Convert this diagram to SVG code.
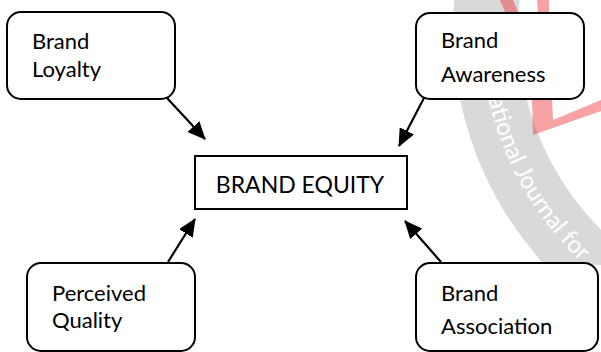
<svg xmlns="http://www.w3.org/2000/svg" width="601" height="352" viewBox="0 0 601 352">
  <style>
    .box { fill: #ffffff; stroke: #000000; stroke-width: 2; }
    .label { font-family: Lato, "Liberation Sans", sans-serif; font-size: 22px; fill: #000000; }
    .title { font-family: Lato, "Liberation Sans", sans-serif; font-size: 23px; fill: #000000; }
    .link { stroke: #000000; stroke-width: 2.2; fill: none; marker-end: url(#head); }
    .band { fill: #d9d9d9; }
    .mark { fill: #ee3333; fill-opacity: 0.45; }
    .bandtext { font-family: Lato, "Liberation Sans", sans-serif; font-size: 24px; fill: #ffffff; }
  </style>
  <defs>
    <marker id="head" viewBox="0 0 18 16" refX="17" refY="8" markerWidth="18" markerHeight="16" markerUnits="userSpaceOnUse" orient="auto">
      <path d="M0,0 L18,8 L0,16 Z" fill="#000000"/>
    </marker>
    <path id="arc" d="M488.6,98.8 A320,320 0 0 0 665.8,319.5"/>
  </defs>

  <rect width="601" height="352" fill="#ffffff"/>

  <!-- background seal -->
  <g id="seal">
    <path class="band" d="M455.2,-10 A348,348 0 0 0 544.8,265 L644.1,265 A283,283 0 0 1 520.8,-10 Z"/>
    <polygon class="mark" points="500,0 513,0 519,14 506,14"/>
    <polygon class="mark" points="537,0 549,0 549,14 538,14"/>
    <polygon class="mark" points="532,99 552,99 553,120 601,100 601,111 533,135"/>
    <text class="bandtext"><textPath href="#arc">ational Journal for</textPath></text>
  </g>

  <!-- connectors -->
  <g id="connectors">
    <line class="link" x1="167" y1="98" x2="205" y2="139"/>
    <line class="link" x1="424" y1="98" x2="399" y2="146"/>
    <line class="link" x1="168" y1="262" x2="195" y2="219"/>
    <line class="link" x1="441" y1="262" x2="405" y2="221"/>
  </g>

  <g id="brand-loyalty">
    <rect class="box" x="7" y="12" width="168" height="87" rx="14"/>
    <text class="label" x="32" y="49">Brand</text>
    <text class="label" x="32" y="77">Loyalty</text>
  </g>

  <g id="brand-awareness">
    <rect class="box" x="416" y="13" width="168" height="86" rx="14"/>
    <text class="label" x="441" y="48">Brand</text>
    <text class="label" x="441" y="82">Awareness</text>
  </g>

  <g id="brand-equity">
    <rect class="box" x="195" y="156" width="212" height="53"/>
    <text class="title" x="300" y="193" text-anchor="middle">BRAND EQUITY</text>
  </g>

  <g id="perceived-quality">
    <rect class="box" x="27" y="263" width="168" height="88" rx="14"/>
    <text class="label" x="52" y="301">Perceived</text>
    <text class="label" x="52" y="328">Quality</text>
  </g>

  <g id="brand-association">
    <rect class="box" x="416" y="263" width="182" height="88" rx="14"/>
    <text class="label" x="441" y="301">Brand</text>
    <text class="label" x="441" y="334">Association</text>
  </g>
</svg>
